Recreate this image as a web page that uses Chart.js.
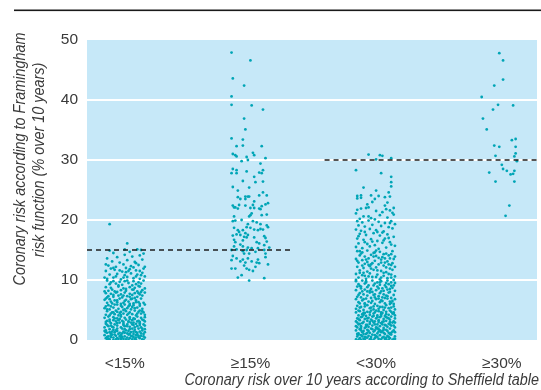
<!DOCTYPE html>
<html>
<head>
<meta charset="utf-8">
<script src="https://cdn.jsdelivr.net/npm/chart.js@4.4.1/dist/chart.umd.min.js"></script>
<style>
  html, body { margin: 0; padding: 0; background: #fff; }
  #wrap { width: 541px; height: 390px; }
</style>
</head>
<body>
<div id="wrap"><canvas id="chart" width="541" height="390"></canvas></div>
<script>
const categories = ['<15%', '\u226515%', '<30%', '\u226530%'];
const yTitleLines = ['Coronary risk according to Framingham', 'risk function (% over 10 years)'];
const xTitle = 'Coronary risk over 10 years according to Sheffield table';

// each point: [jitter from category centre (hundredths), Framingham risk %]
const lt15 = [
  [-15,0.3],[-12,0.1],[-9,0.4],[-5,0.2],[-2,0.5],[1,0.1],[4,0.3],[8,0.2],[11,0.5],[14,0.1],[16,0.4],
  [-16,0.8],[-13,0.6],[-10,0.9],[-7,0.7],[-3,0.8],[0,0.6],[3,0.9],[6,0.6],[9,0.8],[13,0.7],[15,1.0],
  [-14,1.2],[-11,1.1],[-8,1.3],[-4,1.2],[-1,1.4],[2,1.1],[5,1.3],[7,1.0],[10,1.2],[12,1.4],[16,1.3],
  [-15,1.6],[-12,1.8],[-9,1.7],[-6,1.5],[-2,1.9],[1,1.6],[4,1.8],[8,1.7],[11,1.9],[14,1.6],
  [-13,0.2],[-7,0.1],[-1,0.2],[6,0.1],[12,0.3],[-11,0.5],[-4,0.6],[2,0.4],[9,0.4],[15,0.6],
  [-16,1.5],[-10,1.4],[-5,1.0],[0,1.2],[3,1.5],[7,1.4],[13,1.1],[-8,0.9],[5,0.7],[10,0.9],
  [-14,0.5],[-3,0.3],[14,1.9],[-12,1.3],[-6,1.9],
  [-16,2.1],[-13,2.3],[-10,2.2],[-6,2.4],[-3,2.1],[0,2.3],[4,2.2],[7,2.5],[10,2.3],[13,2.1],[16,2.4],
  [-15,2.7],[-11,2.8],[-8,2.6],[-4,2.9],[-1,2.7],[2,2.6],[5,2.9],[9,2.7],[12,2.8],[15,2.6],
  [-14,3.2],[-12,3.4],[-7,3.1],[-5,3.3],[-2,3.2],[1,3.4],[3,3.1],[6,3.3],[8,3.5],[11,3.2],[14,3.4],
  [-16,3.7],[-13,3.9],[-9,3.8],[-6,3.6],[-3,3.9],[0,3.7],[4,3.8],[7,3.6],[10,3.9],[13,3.7],[16,3.8],
  [-11,2.4],[-1,2.5],[8,2.1],[-15,3.0],[3,3.0],[12,3.0],[-9,3.3],[6,2.6],[-4,3.5],[15,3.3],
  [-15,4.2],[-12,4.1],[-8,4.3],[-5,4.1],[-1,4.4],[2,4.2],[6,4.3],[9,4.1],[13,4.4],[16,4.2],
  [-14,4.8],[-10,4.6],[-7,4.9],[-3,4.7],[1,4.8],[4,4.6],[8,4.9],[11,4.7],[15,4.6],
  [-16,5.3],[-12,5.1],[-9,5.4],[-5,5.2],[-2,5.5],[2,5.3],[5,5.1],[10,5.4],[14,5.2],
  [-13,5.8],[-11,5.6],[-6,5.9],[-3,5.7],[0,5.9],[3,5.6],[7,5.8],[12,5.7],[16,5.9],
  [-4,4.5],[12,4.9],[-15,5.6],[6,5.5],[-9,4.6],[0,5.1],
  [-14,6.2],[-10,6.1],[-6,6.3],[-1,6.2],[3,6.4],[7,6.1],[11,6.3],[15,6.2],
  [-16,6.7],[-12,6.8],[-8,6.6],[-4,6.9],[1,6.7],[5,6.8],[9,6.6],[13,6.9],
  [-13,7.3],[-9,7.2],[-5,7.4],[-2,7.1],[2,7.3],[6,7.5],[10,7.2],[14,7.4],
  [-15,7.8],[-11,7.7],[-7,7.9],[-3,7.6],[0,7.9],[4,7.7],[8,7.8],[12,7.6],[16,7.9],
  [-6,6.6],[8,7.0],[-14,7.1],[4,6.0],
  [-13,8.2],[-8,8.1],[-3,8.3],[1,8.2],[6,8.4],[10,8.1],[14,8.3],
  [-15,8.8],[-11,8.7],[-5,8.9],[-1,8.6],[4,8.8],[8,8.7],[12,8.9],[16,8.6],
  [-12,9.3],[-7,9.4],[-2,9.2],[3,9.5],[9,9.3],[13,9.4],
  [-14,9.9],[-9,9.8],[-4,9.7],[2,9.9],[7,9.8],[11,9.6],[15,9.9],
  [-14,10.2],[-9,10.4],[-3,10.1],[2,10.5],[7,10.3],[12,10.2],[16,10.6],
  [-12,10.9],[-6,11.0],[0,10.8],[5,11.1],[10,10.9],[14,11.2],
  [-15,11.5],[-8,11.7],[-2,11.4],[4,11.8],[9,11.6],[15,11.9],[-11,11.9],[1,11.3],
  [-13,12.4],[-7,12.2],[-1,12.6],[5,12.3],[11,12.5],[16,12.2],[-10,13.1],[-4,12.9],
  [2,13.3],[8,13.0],[14,13.4],[-14,13.6],[-6,13.8],[0,14.2],[6,13.9],[12,14.1],
  [-9,14.5],[4,14.7],[15,14.4],[-12,14.9],[9,12.8],
  [-14,0.0],[-9,0.0],[-3,0.0],[3,0.0],[9,0.0],[15,0.0],[-6,0.3],[7,0.5],[-11,0.8],[11,0.7],
  [-2,1.1],[4,1.0],[-15,1.3],[9,1.3],[-7,1.6],[0,1.8],[6,1.9],[16,1.8],[-9,2.1],[2,2.3],
  [12,2.5],[-14,2.5],[-6,2.8],[7,2.9],[-1,3.0],[10,3.1],[-12,3.1],[4,3.5],[-8,3.6],[16,3.1],
  [-3,4.2],[10,4.4],[-11,4.4],[3,4.4],[-6,4.7],[14,4.8],[-1,5.0],[8,5.3],[-14,5.1],[4,5.8],
  [-8,5.9],[12,6.0],[-3,6.0],[9,6.3],[-11,6.4],[0,6.5],[6,6.9],[-15,6.9],[-9,7.5],[11,7.8],
  [-1,7.4],[4,7.2],[-6,8.0],[13,8.0],[-10,8.4],[1,8.5],[7,8.4],[-16,8.1],[-5,9.1],[6,9.1],
  [-11,9.6],[0,9.8],[11,9.0],[-7,10.6],[9,10.6],[-1,10.4],[13,10.8],[-16,10.4],[3,11.5],
  [-4,11.6],[12,11.5],[-9,12.0],[7,12.1],[-15,12.6],[1,12.0],
  [-12,19.3],[2,16.1],[0,15.1],[10,15.1],[13,15.0]
];

const ge15 = [
  [-15,47.9],[0,46.6],[-14,43.6],[-5,42.4],[-15,40.6],[-15,39.2],[1,39.1],[10,38.4],[-5,36.9],
  [-4,35.1],[-15,33.6],[-6,33.4],[-11,32.3],[-6,32.4],[9,32.3],[-14,31.0],[-12,30.8],[-11,30.6],
  [2,31.2],[3,30.8],[-3,30.5],[12,30.3],[-7,29.8],[-2,30.0],[8,29.4],[-14,28.5],[-11,28.3],
  [-15,27.8],[-11,27.8],[-3,28.1],[7,27.9],[9,27.8],[10,28.3],[3,27.2],[-6,26.5],[4,26.3],
  [10,26.4],[-14,25.5],[-1,25.4],[-10,24.9],[10,24.6],[7,24.1],[13,24.1],[-10,23.8],[-8,23.5],
  [-4,23.9],[-2,23.9],[-1,23.9],[-4,23.5],[3,23.1],[14,22.8],[12,22.6],[-14,22.4],[-13,22.1],
  [-12,22.1],[-9,22.5],[-4,22.4],[2,22.5],[0,22.0],[3,22.0],[7,21.9],[9,22.3],[-10,21.9],
  [-13,20.6],[-12,19.9],[-14,19.8],[-7,20.0],[0,20.8],[1,21.1],[-1,20.6],[8,21.8],[9,20.8],
  [13,20.9],[5,19.6],[8,19.3],[2,19.8],[-2,19.3],
  [-13,18.7],[-9,18.0],[-6,18.3],[-4,17.8],[-3,18.8],[0,18.7],[3,18.4],[6,18.3],[8,18.5],
  [10,18.4],[13,19.1],[14,18.8],[-11,17.6],[-8,17.5],[-2,17.5],[-10,18.3],
  [-14,17.4],[-13,16.7],[-12,16.3],[-5,17.2],[-3,17.1],[3,17.1],[5,16.3],[7,16.1],[11,17.3],
  [12,17.0],[13,16.4],[11,15.8],[15,15.4],[-13,15.6],[-8,15.9],[-6,16.6],[-6,15.6],
  [-15,15.0],[-11,15.1],[-6,14.8],[-3,15.0],[-1,14.4],[1,15.3],[4,14.7],[6,15.3],[11,15.0],
  [12,14.4],[-5,14.4],[-2,15.4],
  [-15,13.3],[-11,13.6],[-8,13.1],[-6,13.4],[-4,12.9],[-2,13.6],[1,13.1],[5,12.9],[6,13.4],
  [12,13.8],[14,12.6],[-5,12.4],[-14,14.0],
  [-15,11.9],[-12,11.9],[-3,11.9],[-1,11.7],[2,11.5],[4,12.2],[7,12.8],[-10,10.4],[-7,10.8],
  [-1,9.9],[11,10.3]
];

const lt30 = [
  [-16,0.1],[-13,0.3],[-10,0.2],[-7,0.4],[-4,0.1],[-1,0.3],[2,0.2],[5,0.4],[8,0.1],[11,0.3],[14,0.2],
  [-15,0.6],[-12,0.8],[-9,0.5],[-6,0.7],[-3,0.9],[0,0.6],[3,0.8],[6,0.5],[9,0.7],[12,0.9],[15,0.6],
  [-14,1.1],[-11,1.3],[-8,1.0],[-5,1.2],[-2,1.4],[1,1.1],[4,1.3],[7,1.0],[10,1.2],[13,1.4],
  [-16,1.6],[-13,1.8],[-10,1.5],[-7,1.7],[-4,1.9],[-1,1.6],[2,1.8],[5,1.5],[8,1.7],[11,1.9],[14,1.6],
  [-15,2.1],[-12,2.3],[-9,2.0],[-6,2.2],[-3,2.4],[0,2.1],[3,2.3],[6,2.0],[9,2.2],[12,2.4],[15,2.1],
  [-14,2.6],[-11,2.8],[-8,2.5],[-5,2.7],[-2,2.9],[1,2.6],[4,2.8],[7,2.5],[10,2.7],[13,2.9],
  [-16,3.1],[-13,3.3],[-10,3.0],[-7,3.2],[-4,3.4],[-1,3.1],[2,3.3],[5,3.0],[8,3.2],[11,3.4],[14,3.1],
  [-15,3.6],[-12,3.8],[-9,3.5],[-6,3.7],[-3,3.9],[0,3.6],[3,3.8],[6,3.5],[9,3.7],[12,3.9],[15,3.6],
  [-14,4.1],[-11,4.3],[-8,4.0],[-5,4.2],[-2,4.4],[1,4.1],[4,4.3],[7,4.0],[10,4.2],[13,4.4],
  [-16,4.6],[-13,4.8],[-10,4.5],[-7,4.7],[-4,4.9],[-1,4.6],[2,4.8],[5,4.5],[8,4.7],[11,4.9],[14,4.6],
  [-12,0.0],[-5,0.1],[7,0.2],[13,0.0],[-8,0.4],[1,0.5],[10,0.5],[-14,0.9],[-1,0.8],[6,1.2],
  [-10,1.0],[3,1.6],[12,1.2],[-6,1.5],[9,1.5],[-12,2.0],[0,1.9],[14,2.4],[-7,2.5],[5,2.6],
  [-15,2.9],[2,3.0],[11,3.0],[-3,3.2],[8,3.8],[-11,3.9],[-2,4.0],[15,4.1],[-9,4.5],[4,4.6],[12,4.7],
  [-14,0.0],[-9,0.1],[-2,0.0],[4,0.1],[10,0.0],[15,0.2],[-11,0.6],[-4,0.5],[8,0.4],[-15,1.0],
  [-7,1.2],[2,1.4],[11,1.0],[-12,1.6],[-3,1.8],[6,1.7],[15,1.3],[-16,2.3],[-8,2.2],[1,2.0],
  [8,2.4],[-13,2.7],[-1,2.6],[11,2.6],[-5,3.0],[6,3.1],[15,2.9],[-14,3.5],[-7,3.6],[1,3.8],
  [10,3.6],[-10,4.2],[4,4.0],[-5,4.6],[8,4.3],[14,4.4],[-14,4.9],[0,4.9],
  [-16,9.8],[-11,9.9],[-8,9.6],[-3,9.9],[1,9.6],[4,9.8],[9,9.9],[12,9.6],[15,9.5],
  [-14,9.3],[-9,9.4],[-6,9.1],[-1,9.4],[3,9.2],[7,9.1],[10,9.3],[14,9.1],
  [-15,8.9],[-12,8.6],[-7,8.8],[-4,8.5],[1,8.9],[5,8.6],[8,8.8],[13,8.7],
  [-16,8.3],[-11,8.1],[-9,8.4],[-3,8.0],[0,8.3],[4,8.1],[9,8.4],[11,8.0],[15,8.2],
  [-13,7.8],[-10,7.6],[-5,7.9],[-2,7.5],[3,7.8],[6,7.6],[10,7.9],[14,7.5],
  [-15,7.2],[-12,7.1],[-7,7.4],[-4,7.0],[2,7.3],[5,7.1],[8,7.4],[12,7.0],
  [-16,6.8],[-11,6.6],[-8,6.9],[-3,6.5],[0,6.8],[4,6.6],[9,6.9],[13,6.5],[15,6.8],
  [-14,6.3],[-9,6.1],[-6,6.4],[-1,6.0],[3,6.3],[7,6.1],[11,6.4],[14,6.0],
  [-15,5.7],[-12,5.5],[-7,5.8],[-4,5.4],[1,5.7],[5,5.5],[8,5.8],[12,5.4],
  [-16,5.2],[-10,5.0],[-5,5.3],[-2,5.1],[2,5.2],[6,5.0],[10,5.3],[15,5.1],
  [-13,9.0],[-5,8.2],[7,7.0],[-9,6.0],[3,9.6],[11,8.5],[-1,7.1],[-13,5.4],[11,6.0],[3,5.5],
  [-9,5.6],[-2,5.6],[7,5.4],[14,5.6],[-13,6.1],[-4,6.2],[5,6.5],[12,6.2],[-10,6.8],[2,6.9],
  [-14,7.5],[-1,7.6],[9,7.3],[-7,8.1],[6,8.2],[-12,8.9],[2,8.6],[-2,9.1],[12,9.0],[-8,9.8],
  [8,9.5],[-16,10.0],[0,10.5],[12,10.4],[-6,10.6],[6,11.2],[-13,11.2],[1,11.6],[-4,12.6],
  [10,12.6],[-11,12.4],[4,12.9],[-8,13.4],[7,13.6],[-2,13.9],[12,14.3],[-13,14.8],[0,14.9],
  [-15,14.8],[-11,14.6],[-7,14.9],[-2,14.5],[3,14.7],[8,14.4],[13,14.8],
  [-13,14.1],[-9,13.9],[-4,14.2],[0,14.0],[5,13.8],[10,14.1],[15,13.9],
  [-16,13.5],[-11,13.3],[-6,13.6],[-1,13.2],[4,13.4],[9,13.1],[14,13.5],
  [-14,12.9],[-9,12.7],[-3,12.8],[2,12.6],[7,12.9],[12,12.5],
  [-15,12.2],[-10,12.0],[-5,12.3],[0,12.1],[6,12.4],[11,11.9],[15,12.2],
  [-13,11.6],[-7,11.4],[-2,11.7],[4,11.5],[8,11.3],[13,11.7],
  [-16,11.0],[-11,10.8],[-5,11.1],[1,10.9],[6,10.7],[10,11.0],[15,10.6],
  [-14,10.4],[-8,10.2],[-3,10.5],[3,10.1],[9,10.3],[14,10.0],
  [-12,14.4],[-6,12.5],[11,13.6],[-1,14.6],[-9,10.7],[6,14.3],[12,10.9],[-4,11.9],[2,13.7],
  [-15,13.2],[8,12.1],[-10,11.2],[4,10.4],[-7,13.0],[13,12.8],
  [-15,19.8],[-11,19.6],[-6,19.9],[2,19.7],[7,19.5],[12,19.8],[-14,19.1],[-9,18.9],[-3,19.2],
  [4,19.0],[10,18.8],[15,19.3],[-16,18.4],[-12,18.2],[-5,18.5],[0,18.3],[6,18.1],[13,18.6],
  [-13,17.7],[-8,17.5],[-2,17.8],[3,17.4],[9,17.6],[14,17.2],[-15,16.9],[-10,16.7],[-4,16.8],
  [1,16.5],[7,16.9],[11,16.3],[-14,16.1],[-7,16.0],[-1,15.8],[5,16.2],[12,15.9],[-16,15.5],
  [-11,15.3],[-5,15.6],[2,15.2],[8,15.4],[15,15.7],[-9,18.0],[5,17.9],[-3,16.4],[10,17.0],
  [-9,16.3],[6,16.6],[-14,17.3],[1,18.0],[11,19.5],[-6,20.6],
  [-15,24.0],[-12,24.1],[-15,23.6],[-12,23.7],[-4,24.1],[2,24.0],[7,23.8],[11,23.9],[9,22.9],
  [7,22.4],[8,21.8],[14,22.0],[13,21.2],[-7,22.6],[-6,22.1],[-8,22.0],[-3,23.0],[-1,23.5],
  [-16,21.1],[-15,21.7],[-12,21.9],[0,21.5],[5,21.3],[11,21.6],[-10,20.6],[-4,20.3],[3,20.8],
  [-13,20.2],[9,20.4],[14,20.9],[-1,20.1],
  [-6,30.9],[3,30.8],[5,30.7],[0,30.1],[12,30.3],[-16,28.3],[4,27.8],[12,27.2],[12,26.3],
  [12,25.6],[-10,25.4],[0,24.9],[10,24.6]
];

const ge30 = [
  [-2,47.8],[1,46.6],[1,43.4],[-6,42.4],[-16,40.5],[-3,39.2],[9,39.1],[-7,38.4],[-15,36.9],
  [-12,35.1],[8,33.3],[11,33.5],[-6,32.4],[-2,32.2],[11,32.2],[-5,30.7],[10,30.6],[11,31.1],
  [12,29.8],[0,29.2],[1,28.5],[4,28.2],[10,28.2],[9,27.7],[7,27.6],[-10,27.9],[-5,26.4],
  [10,26.4],[6,22.4],[3,20.7]
];

// dashed cut-off lines: [risk %, from x, to x]
const cutoffs = [[15, 0.7, 2.32], [30, 2.59, 4.28]];

const FONT = "'Liberation Sans', Arial, sans-serif";
const TEXT = '#3a3a3a';
const BLUE = '#c6e8f8';
const TEAL = '#00a5b6';

const toPoints = (rows, cat) => rows.map(([dx, y]) => ({ x: cat + dx / 100, y }));

const scatterSet = (rows, cat) => ({
  type: 'scatter',
  data: toPoints(rows, cat),
  pointRadius: 1.4,
  pointBackgroundColor: TEAL,
  pointBorderWidth: 0,
  order: 1
});

const cutoffSet = ([y, from, to]) => ({
  type: 'line',
  data: [{ x: from, y }, { x: to, y }],
  borderColor: '#1e1e1e',
  borderWidth: 1.4,
  borderDash: [5, 4],
  pointRadius: 0,
  order: 0
});

// narrow italic text, squeezed like the original condensed face
const drawNarrow = (ctx, text, x, y, angle, align) => {
  ctx.save();
  ctx.translate(x, y);
  ctx.rotate(angle);
  ctx.scale(0.9, 1);
  ctx.textAlign = align;
  ctx.fillText(text, 0, 0);
  ctx.restore();
};

const framePlugin = {
  id: 'frame',
  beforeDraw(chart) {
    const { ctx, chartArea: a } = chart;
    ctx.save();
    ctx.fillStyle = BLUE;
    ctx.fillRect(a.left, a.top, a.right - a.left, a.bottom - a.top);
    ctx.fillStyle = '#1a1a1a';
    ctx.fillRect(14, 9.5, chart.width - 14, 1.6);
    ctx.restore();
  },
  afterDraw(chart) {
    const ctx = chart.ctx;
    ctx.save();
    ctx.fillStyle = TEXT;
    ctx.font = 'italic 16px ' + FONT;
    ctx.textBaseline = 'middle';
    drawNarrow(ctx, yTitleLines[0], 21, 159, -Math.PI / 2, 'center');
    drawNarrow(ctx, yTitleLines[1], 40, 160, -Math.PI / 2, 'center');
    drawNarrow(ctx, xTitle, 539, 381, 0, 'right');
    ctx.restore();
  }
};

new Chart(document.getElementById('chart'), {
  type: 'scatter',
  data: {
    datasets: [
      ...cutoffs.map(cutoffSet),
      scatterSet(lt15, 1),
      scatterSet(ge15, 2),
      scatterSet(lt30, 3),
      scatterSet(ge30, 4)
    ]
  },
  options: {
    responsive: false,
    animation: false,
    devicePixelRatio: 1,
    layout: { padding: { top: 40, right: 0, bottom: 0, left: 0 } },
    plugins: { legend: { display: false }, tooltip: { enabled: false } },
    scales: {
      x: {
        type: 'linear',
        min: 0.7,
        max: 4.28,
        afterBuildTicks: (s) => { s.ticks = categories.map((c, i) => ({ value: i + 1 })); },
        afterFit: (s) => { s.height = 50; },
        grid: { display: false },
        border: { display: false },
        ticks: {
          padding: 6,
          color: TEXT,
          autoSkip: false,
          maxRotation: 0,
          font: { family: FONT, size: 15.5 },
          callback: (v) => categories[v - 1]
        }
      },
      y: {
        min: 0,
        max: 50,
        afterFit: (s) => { s.width = 87; },
        border: { display: false },
        grid: {
          color: (c) => (c.tick.value > 0 && c.tick.value < 50 ? '#ffffff' : 'rgba(0,0,0,0)'),
          lineWidth: 2,
          drawTicks: false
        },
        ticks: { stepSize: 10, padding: 9, color: TEXT, font: { family: FONT, size: 15.5 } }
      }
    }
  },
  plugins: [framePlugin]
});
</script>
</body>
</html>
